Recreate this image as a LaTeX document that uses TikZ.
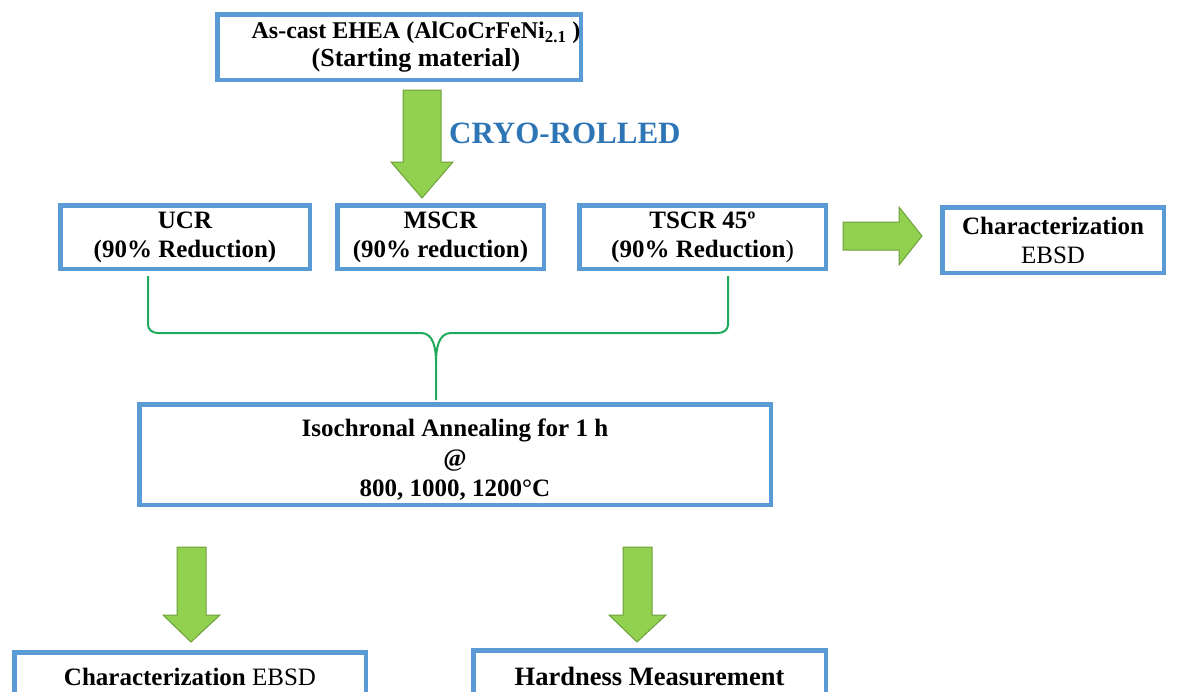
\documentclass[tikz,border=0pt]{standalone}
\usepackage{fontspec}
\setmainfont{Liberation Serif}
\definecolor{boxblue}{RGB}{91,155,213}
\definecolor{arrowgreen}{RGB}{146,208,80}
\definecolor{arrowedge}{RGB}{110,160,60}
\definecolor{bracegreen}{RGB}{30,170,90}
\definecolor{titleblue}{RGB}{46,117,182}
\begin{document}
\begin{tikzpicture}[x=1pt,y=-1pt,
  procbox/.style={draw=boxblue, line width=4.5pt, fill=white, inner sep=0pt,
    align=center, font=\fontsize{25}{29}\selectfont\bfseries},
  boxtext/.style={inner sep=0pt, align=center, font=\fontsize{25}{29}\selectfont\bfseries},
  blockarrow/.style={fill=arrowgreen, draw=arrowedge, line width=1pt, line join=miter},
  bracepath/.style={draw=bracegreen, line width=2pt}]
\useasboundingbox (0,0) rectangle (1182,691);
\clip (0,0) rectangle (1182,691);

% boxes
\node[procbox, minimum width=363.5pt, minimum height=65.5pt] (start) at (399,47) {};
\node[boxtext, font=\fontsize{24}{28}\selectfont\bfseries] (startlabel) at (416,47)
  {As-cast EHEA (AlCoCrFeNi\textsubscript{2.1} )\\{\fontsize{26}{28}\selectfont (Starting material)}};
\node[font=\fontsize{31}{36}\selectfont\bfseries, text=titleblue, anchor=west, inner sep=0pt] (cryo) at (449,133) {CRYO-ROLLED};

\node[procbox, minimum width=249.5pt, minimum height=63.5pt] (ucr) at (185,237)
  {UCR\\(90\% Reduction)};
\node[procbox, minimum width=206.5pt, minimum height=63.5pt] (mscr) at (440.5,237)
  {MSCR\\(90\% reduction)};
\node[procbox, minimum width=246.5pt, minimum height=63.5pt] (tscr) at (702.5,237)
  {TSCR 45º\\(90\% Reduction\textmd{)}};
\node[procbox, minimum width=221.5pt, minimum height=65.5pt] (charA) at (1053,240)
  {Characterization\\\textmd{EBSD}};

\node[procbox, minimum width=631.5pt, minimum height=100.5pt] (anneal) at (455,454.5) {};
\node[boxtext, font=\fontsize{25}{30}\selectfont\bfseries] (anneallabel) at (455,460)
  {Isochronal Annealing for 1 h\\@\\800, 1000, 1200°C};

\node[procbox, minimum width=351.5pt, minimum height=49.5pt] (charB) at (190,677)
  {Characterization \textmd{EBSD}};
\node[procbox, minimum width=352.5pt, minimum height=51.5pt, font=\fontsize{26.5}{29}\selectfont\bfseries] (hard) at (649.5,676)
  {Hardness Measurement};

% block arrows
\filldraw[blockarrow] (403,90) -- (441,90) -- (441,162) -- (453,162) -- (422,198)
  -- (391,162) -- (403,162) -- cycle;
\filldraw[blockarrow] (843,222) -- (899,222) -- (899,207) -- (922,236) -- (899,265)
  -- (899,250) -- (843,250) -- cycle;
\filldraw[blockarrow] (177,547) -- (206,547) -- (206,615) -- (220,615) -- (191,642)
  -- (163,615) -- (177,615) -- cycle;
\filldraw[blockarrow] (623,547) -- (652,547) -- (652,615) -- (666,615) -- (637,642)
  -- (609,615) -- (623,615) -- cycle;

% brace joining the three rolled states
\coordinate (bL) at (148,276);
\coordinate (bR) at (728,276);
\coordinate (bM) at (436,400);
\draw[bracepath] (bL) -- (148,325) to[out=-90,in=180] (158,333) -- (421,333)
  to[out=0,in=90] (436,362) -- (bM);
\draw[bracepath] (bR) -- (728,325) to[out=-90,in=0] (718,333) -- (451,333)
  to[out=180,in=90] (436,362);
\end{tikzpicture}
\end{document}
